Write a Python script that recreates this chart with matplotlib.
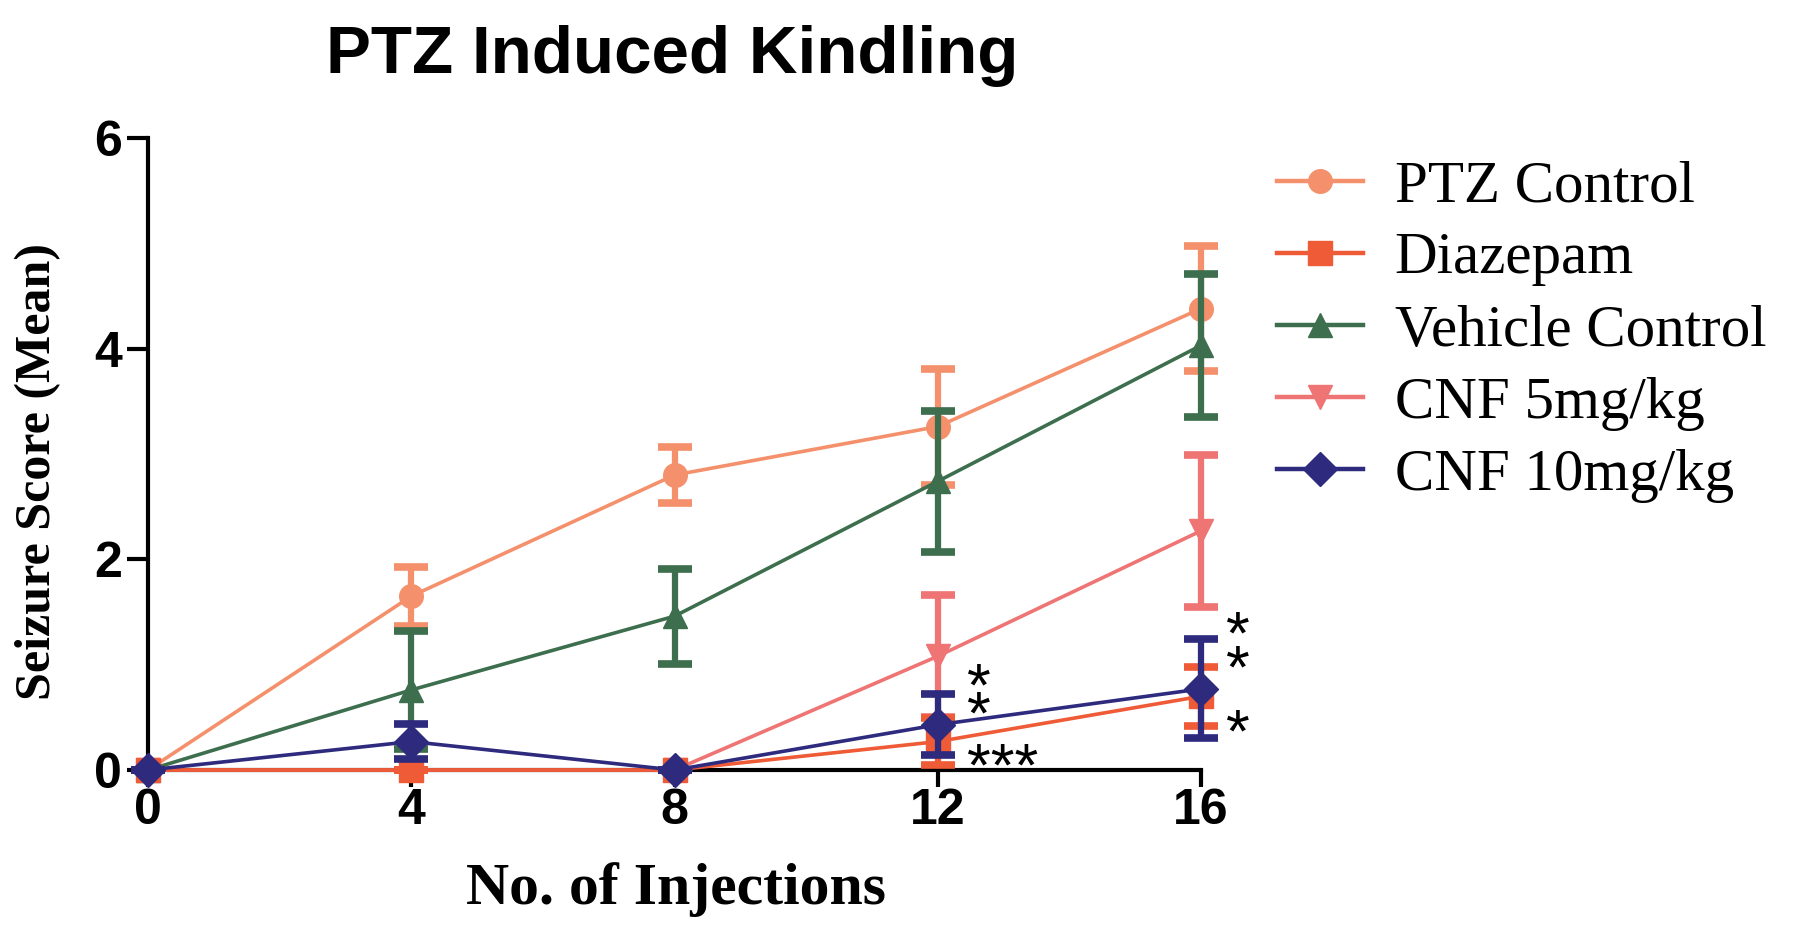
import numpy as np
import matplotlib
matplotlib.use("Agg")
import matplotlib.pyplot as plt
from matplotlib.lines import Line2D

# -------------------------
# Data
# -------------------------
injections = [0, 4, 8, 12, 16]

series_names = ["PTZ Control", "Diazepam", "Vehicle Control", "CNF 5mg/kg", "CNF 10mg/kg"]

ptz_mean = [0, 1.65, 2.80, 3.26, 4.38]
ptz_sem = [0, 0.28, 0.27, 0.55, 0.59]

diazepam_mean = [0, 0, 0, 0.27, 0.70]
diazepam_sem = [0, 0, 0, 0.22, 0.28]

vehicle_mean = [0, 0.76, 1.46, 2.74, 4.03]
vehicle_sem = [0, 0.56, 0.45, 0.67, 0.68]

cnf5_mean = [0, 0, 0, 1.08, 2.27]
cnf5_sem = [0, 0, 0, 0.58, 0.72]

cnf10_mean = [0, 0.27, 0, 0.43, 0.77]
cnf10_sem = [0, 0.17, 0, 0.29, 0.47]

# significance marks: x, y of the lowest asterisk row, text
sig_x = [12.63, 12.98, 16.56, 16.56]
sig_y = [0.61, 0.12, 1.05, 0.44]
sig_text = ["*\n*", "***", "*\n*", "*"]
sig_spacing = [0.33, 1.0, 0.48, 1.0]

# -------------------------
# Styles
# -------------------------
colors = ["#F4916C", "#EE5B36", "#3D6E4D", "#EF7474", "#2E2A7E"]
markers = ["o", "s", "^", "v", "D"]
zorders = [3, 6, 4, 5, 7]
means = [ptz_mean, diazepam_mean, vehicle_mean, cnf5_mean, cnf10_mean]
sems = [ptz_sem, diazepam_sem, vehicle_sem, cnf5_sem, cnf10_sem]

fig = plt.figure(figsize=(18.03, 9.31), dpi=100)
ax = fig.add_axes([0.0821, 0.1729, 0.584, 0.679])

for i in range(5):
    ax.errorbar(
        injections, means[i], yerr=sems[i],
        color=colors[i], lw=2.6, marker=markers[i], ms=17,
        mfc=colors[i], mec=colors[i],
        elinewidth=4.5, capsize=12, capthick=5.5,
        clip_on=False, zorder=zorders[i]
    )

# asterisk glyph sits above the baseline -> shift anchor down
ast_size = 44
ast_offset = 0.263
for x, y, t, ls in zip(sig_x, sig_y, sig_text, sig_spacing):
    ax.text(x, y - ast_offset, t, fontsize=ast_size, family="Liberation Sans",
            ha="center", va="baseline", linespacing=ls,
            clip_on=False, zorder=10)

ax.set_xlim(0, 16)
ax.set_ylim(0, 6)
ax.set_xticks(injections)
ax.set_yticks([0, 2, 4, 6])

for s in ["top", "right"]:
    ax.spines[s].set_visible(False)
for s in ["left", "bottom"]:
    ax.spines[s].set_linewidth(3)

ax.tick_params(axis="y", direction="out", length=15, width=3, pad=4)
ax.tick_params(axis="x", direction="out", length=12, width=3, pad=1)
for lab in ax.get_xticklabels() + ax.get_yticklabels():
    lab.set_fontfamily("Liberation Sans")
    lab.set_fontweight("bold")
    lab.set_fontsize(36)

fig.text(0.373, 0.922, "PTZ Induced Kindling", fontsize=48.5, fontweight="bold",
         family="Liberation Sans", ha="center", va="baseline")
fig.text(0.375, 0.045, "No. of Injections", fontsize=43, fontweight="bold",
         family="Liberation Serif", ha="center", va="center")
fig.text(0.021, 0.494, "Seizure Score (Mean)", fontsize=36, fontweight="bold",
         family="Liberation Serif", ha="center", va="center", rotation=90)

# legend
handles = [
    Line2D([], [], color=colors[i], lw=3.2, marker=markers[i], ms=17,
           mfc=colors[i], mec=colors[i])
    for i in range(5)
]
leg = fig.legend(
    handles, series_names, loc="upper left",
    bbox_to_anchor=(0.708, 0.828), frameon=False,
    prop={"family": "Liberation Serif", "size": 42.5},
    handlelength=1.46, handletextpad=0.54, labelspacing=0.30,
    borderaxespad=0, borderpad=0
)

fig.savefig("out.png", dpi=100)
